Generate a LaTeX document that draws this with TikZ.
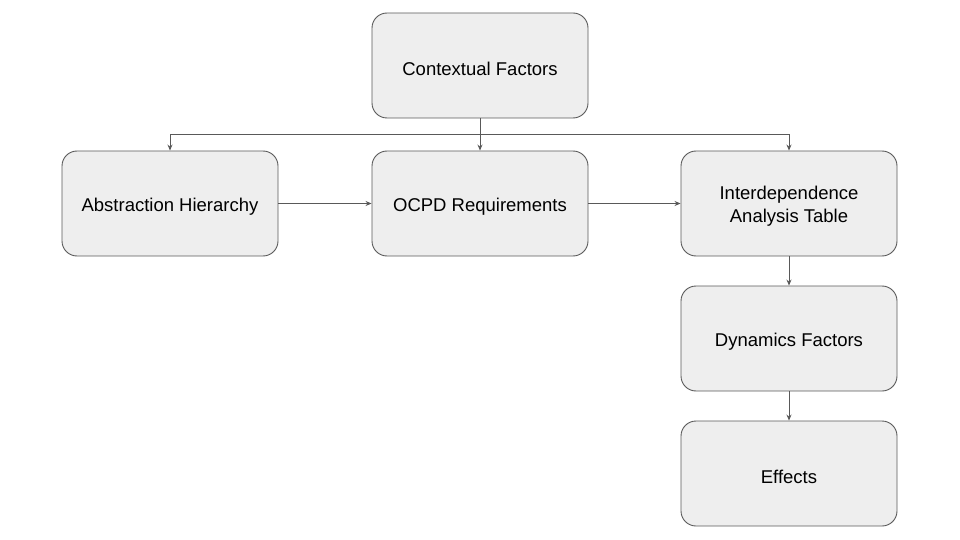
\documentclass[tikz,border=0pt]{standalone}
\usepackage{fontspec}
\setmainfont{Liberation Sans}
\usetikzlibrary{arrows.meta}
\definecolor{boxfill}{HTML}{EEEEEE}
\definecolor{boxline}{HTML}{595959}
\newcommand{\lift}{\rule{0pt}{19.5pt}}
\begin{document}
\begin{tikzpicture}[x=1pt,y=-1pt,
  box/.style={draw=boxline,fill=boxfill,line width=0.9pt,rounded corners=15pt,
    minimum width=216pt,minimum height=105pt,align=center,
    font=\fontsize{18.5}{23}\selectfont,inner sep=0pt},
  conn/.style={draw=boxline,line width=0.8pt,-{Stealth[length=6pt,width=5pt]}}]
\useasboundingbox (0,0) rectangle (960,540);
\node[box] (cf) at (480,65.5) {\lift Contextual Factors};
\node[box] (ah) at (170,203.5) {\lift Abstraction Hierarchy};
\node[box] (ocpd) at (480,203.5) {\lift OCPD Requirements};
\node[box] (iat) at (789,203.5) {\lift Interdependence\\Analysis Table};
\node[box] (df) at (789,338.5) {\lift Dynamics Factors};
\node[box] (ef) at (789,473.5) {\lift Effects};
\coordinate (j) at (480,134);
\draw[draw=boxline,line width=0.8pt] (cf.south) -- (j);
\draw[conn] (j) -- (ocpd.north);
\draw[conn] (j) -| (ah.north);
\draw[conn] (j) -| (iat.north);
\draw[conn] (ah.east) -- (ocpd.west);
\draw[conn] (ocpd.east) -- (iat.west);
\draw[conn] (iat.south) -- (df.north);
\draw[conn] (df.south) -- (ef.north);
\end{tikzpicture}
\end{document}
